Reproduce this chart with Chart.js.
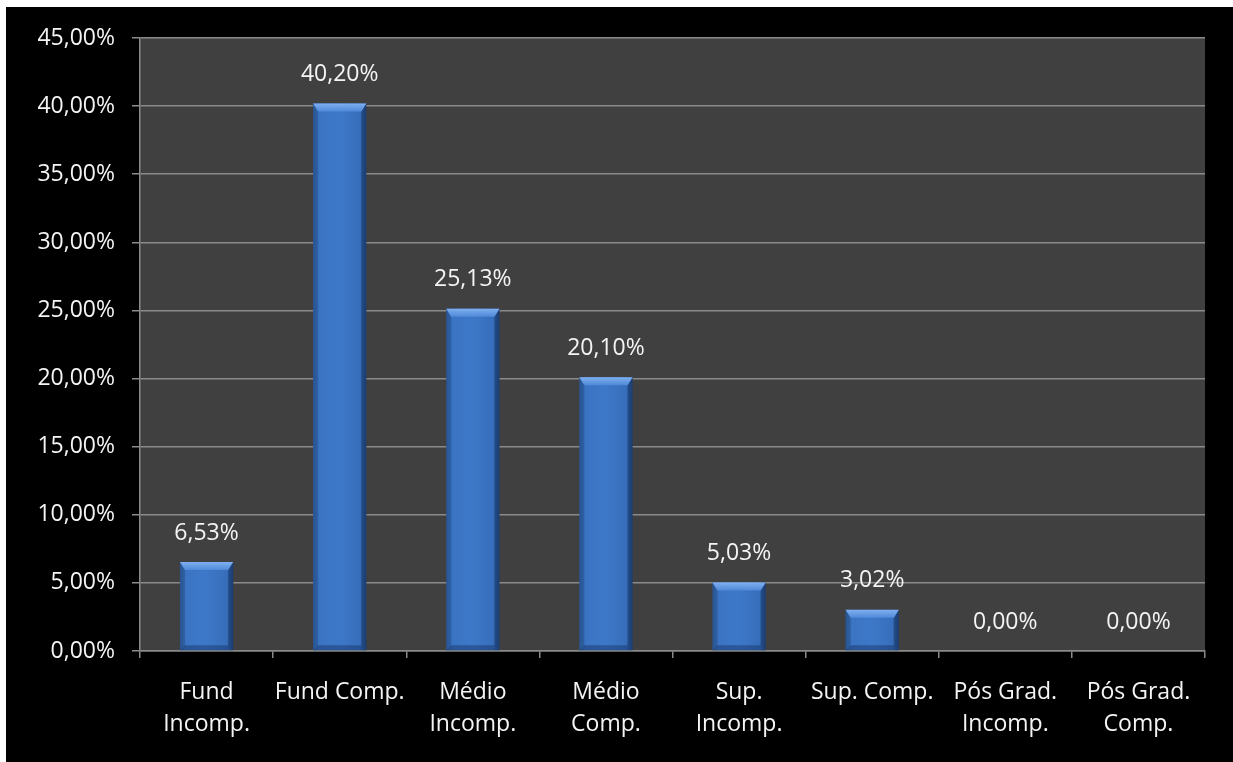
<!DOCTYPE html>
<html>
<head>
<meta charset="utf-8">
<script src="https://cdn.jsdelivr.net/npm/chart.js@4"></script>
<style>
  html, body { margin: 0; padding: 0; background: #ffffff; }
  #frame { position: absolute; left: 6px; top: 7px; width: 1227px; height: 755px; background: #000000; }
</style>
</head>
<body>
<div id="frame"><canvas id="escolaridade" width="1227" height="755"></canvas></div>
<script>
// escolaridade - percentual por nivel
const categorias = [
  ["Fund", "Incomp."],
  "Fund Comp.",
  ["Médio", "Incomp."],
  ["Médio", "Comp."],
  ["Sup.", "Incomp."],
  "Sup. Comp.",
  ["Pós Grad.", "Incomp."],
  ["Pós Grad.", "Comp."]
];
const percentuais = [6.53, 40.20, 25.13, 20.10, 5.03, 3.02, 0.00, 0.00];
const eixoY = { min: 0, max: 45, passo: 5 };

const fonte = "'Open Sans', sans-serif";
const corTexto = "#f4f4f4";

function fmt(v) {
  return v.toFixed(2).replace('.', ',') + '%';
}

// fundo cinza da area do grafico
const fundoArea = {
  id: 'fundoArea',
  beforeDraw(chart) {
    const a = chart.chartArea, ctx = chart.ctx;
    ctx.save();
    ctx.fillStyle = '#404040';
    ctx.fillRect(a.left, a.top, a.right - a.left, a.bottom - a.top);
    ctx.restore();
  }
};

// colunas com chanfro + rotulos de valor
const colunas = {
  id: 'colunas',
  afterDatasetsDraw(chart) {
    const ctx = chart.ctx;
    const meta = chart.getDatasetMeta(0);
    meta.data.forEach(function(bar, i) {
      const x0 = bar.x - bar.width / 2, x1 = bar.x + bar.width / 2;
      const y = bar.y, base = bar.base;
      const h = base - y;
      ctx.save();
      if (h > 1) {
        const b = Math.min(8, h / 2);
        const s = Math.min(5, h / 2);
        // corpo
        const g = ctx.createLinearGradient(x0, 0, x1, 0);
        g.addColorStop(0, '#30609f');
        g.addColorStop(0.12, '#3b74c3');
        g.addColorStop(0.5, '#3d78c8');
        g.addColorStop(0.88, '#376ebb');
        g.addColorStop(1, '#264e86');
        ctx.fillStyle = g;
        ctx.fillRect(x0, y, x1 - x0, h);
        // lateral esquerda
        ctx.fillStyle = 'rgba(20,50,100,0.25)';
        ctx.beginPath();
        ctx.moveTo(x0, y); ctx.lineTo(x0 + s, y + b); ctx.lineTo(x0 + s, base - s); ctx.lineTo(x0, base);
        ctx.closePath(); ctx.fill();
        // lateral direita
        ctx.fillStyle = 'rgba(10,30,70,0.35)';
        ctx.beginPath();
        ctx.moveTo(x1, y); ctx.lineTo(x1 - s, y + b); ctx.lineTo(x1 - s, base - s); ctx.lineTo(x1, base);
        ctx.closePath(); ctx.fill();
        // base
        ctx.fillStyle = 'rgba(15,40,85,0.4)';
        ctx.beginPath();
        ctx.moveTo(x0, base); ctx.lineTo(x0 + s, base - s); ctx.lineTo(x1 - s, base - s); ctx.lineTo(x1, base);
        ctx.closePath(); ctx.fill();
        // topo
        const gt = ctx.createLinearGradient(0, y, 0, y + b);
        gt.addColorStop(0, '#7fb0f0');
        gt.addColorStop(1, '#4f89d8');
        ctx.fillStyle = gt;
        ctx.beginPath();
        ctx.moveTo(x0, y); ctx.lineTo(x1, y); ctx.lineTo(x1 - s, y + b); ctx.lineTo(x0 + s, y + b);
        ctx.closePath(); ctx.fill();
      }
      // rotulo
      ctx.fillStyle = corTexto;
      ctx.font = '23px ' + fonte;
      ctx.textAlign = 'center';
      ctx.textBaseline = 'middle';
      ctx.fillText(fmt(percentuais[i]), bar.x, y - 29);
      ctx.restore();
    });
  }
};

new Chart("escolaridade", {
  type: "bar",
  data: {
    labels: categorias,
    datasets: [{
      data: percentuais,
      backgroundColor: 'rgba(0,0,0,0)',
      borderWidth: 0,
      barPercentage: 1,
      categoryPercentage: 0.4
    }]
  },
  options: {
    responsive: false,
    animation: false,
    layout: { padding: { left: 0, top: 31, right: 28, bottom: 0 } },
    plugins: {
      legend: { display: false },
      tooltip: { enabled: false }
    },
    scales: {
      x: {
        grid: {
          drawOnChartArea: false,
          drawTicks: true,
          tickLength: 7,
          color: '#8a8a8a',
          lineWidth: 1.5
        },
        border: { color: '#8a8a8a', width: 1.5 },
        ticks: {
          color: corTexto,
          font: { family: fonte, size: 23, lineHeight: 1.4 },
          padding: 18,
          maxRotation: 0,
          autoSkip: false
        },
        afterFit(scale) { scale.height = 111; }
      },
      y: {
        min: eixoY.min,
        max: eixoY.max,
        grid: {
          color: '#8a8a8a',
          lineWidth: 1.5,
          tickLength: 8
        },
        border: { color: '#8a8a8a', width: 1.5 },
        ticks: {
          stepSize: eixoY.passo,
          color: corTexto,
          font: { family: fonte, size: 23 },
          padding: 17,
          callback: function(v) { return fmt(v); }
        },
        afterFit(scale) { scale.width = 134; }
      }
    }
  },
  plugins: [fundoArea, colunas]
});
</script>
</body>
</html>
